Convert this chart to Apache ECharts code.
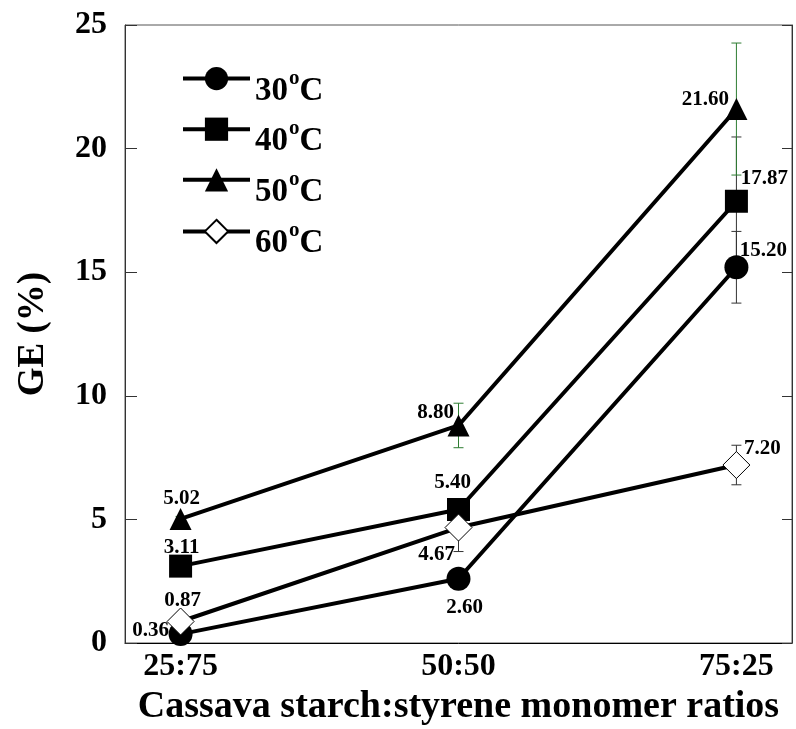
<!DOCTYPE html>
<html>
<head>
<meta charset="utf-8">
<script src="https://cdn.jsdelivr.net/npm/echarts@6/dist/echarts.min.js"></script>
<style>html,body{margin:0;padding:0;background:#fff;}#c{width:796px;height:729px;}</style>
</head>
<body>
<div id="c"></div>
<script>
const categories = ['25:75', '50:50', '75:25'];
const seriesNames = ['30', '40', '50', '60'];
const ge30 = [0.36, 2.60, 15.20];
const ge40 = [3.11, 5.40, 17.87];
const ge50 = [5.02, 8.80, 21.60];
const ge60 = [0.87, 4.67, 7.20];
const err30 = [0, 0, 1.45];
const err40 = [0, 0, 2.6];
const err50 = [0.1, 0.9, 2.67];
const err60 = [0.2, 0.97, 0.8];
const yTicks = [0, 5, 10, 15, 20, 25];

const FONT = 'Liberation Serif';
const values = [ge30, ge40, ge50, ge60];
const errs = [err30, err40, err50, err60];
const symbols = ['circle', 'rect', 'triangle', 'diamond'];
const symbolSizes = [24, 23, 22, [27, 27]];
const errColors = ['#333', '#333', '#2e7d32', '#333'];
const labelOffsets = [
  [[-30, -4], [6, 29], [27, -17]],
  [[1, -19], [-6, -27], [28, -23]],
  [[1, -20], [-23, -13], [-31, -9]],
  [[2, -21], [-22, 27], [26, -16]]
];

const chart = echarts.init(document.getElementById('c'));

const lineSeries = values.map((vals, si) => ({
  name: seriesNames[si],
  type: 'line',
  z: 3,
  symbol: symbols[si],
  symbolSize: symbolSizes[si],
  lineStyle: { color: '#000', width: 4 },
  itemStyle: si === 3 ? { color: '#fff', borderColor: '#000', borderWidth: 1 } : { color: '#000' },
  data: vals.map((v, i) => ({
    value: [i, v],
    label: {
      show: true,
      position: 'inside',
      offset: labelOffsets[si][i],
      formatter: v.toFixed(2),
      color: '#000',
      fontFamily: FONT,
      fontWeight: 'bold',
      fontSize: 21
    }
  }))
}));

const errSeries = values.map((vals, si) => ({
  type: 'custom',
  z: 2,
  silent: true,
  data: vals.map((v, i) => [i, v, errs[si][i]]).filter(d => d[2] > 0),
  renderItem: function (params, api) {
    const x = api.value(0), y = api.value(1), e = api.value(2);
    const t = api.coord([x, y + e]);
    const b = api.coord([x, y - e]);
    const st = { stroke: errColors[si], lineWidth: 1 };
    return {
      type: 'group',
      children: [
        { type: 'line', shape: { x1: t[0], y1: t[1], x2: b[0], y2: b[1] }, style: st },
        { type: 'line', shape: { x1: t[0] - 5, y1: t[1], x2: t[0] + 5, y2: t[1] }, style: st },
        { type: 'line', shape: { x1: b[0] - 5, y1: b[1], x2: b[0] + 5, y2: b[1] }, style: st }
      ]
    };
  }
}));

chart.setOption({
  animation: false,
  backgroundColor: '#fff',
  grid: { left: 125, right: 4, top: 25, bottom: 86, outerBoundsMode: 'none', containLabel: false, show: true, borderColor: '#555', borderWidth: 1 },
  legend: {
    orient: 'vertical',
    left: 181,
    top: 67,
    padding: 0,
    itemWidth: 67,
    itemHeight: 29,
    itemGap: 10,
    data: seriesNames,
    lineStyle: { width: 4 },
    formatter: function (n) { return '{a|' + n + '}{s|o}{a|C}'; },
    textStyle: {
      color: '#000',
      padding: [18, 0, 0, 0],
      rich: {
        a: { fontFamily: FONT, fontWeight: 'bold', fontSize: 33, color: '#000', verticalAlign: 'bottom', lineHeight: 40 },
        s: { fontFamily: FONT, fontWeight: 'bold', fontSize: 21, color: '#000', verticalAlign: 'top', lineHeight: 40, padding: [0, 0, 0, 1] }
      }
    }
  },
  xAxis: {
    type: 'value',
    min: -0.2,
    max: 2.2,
    splitLine: { show: false },
    axisLine: { onZero: false, lineStyle: { color: '#000', width: 1 } },
    axisTick: { show: false },
    name: 'Cassava starch:styrene monomer ratios',
    nameLocation: 'middle',
    nameGap: 40,
    nameTextStyle: { fontFamily: FONT, fontWeight: 'bold', fontSize: 38, color: '#000' },
    axisLabel: {
      customValues: [0, 1, 2],
      formatter: function (v) { return categories[Math.round(v)] || ''; },
      fontFamily: FONT, fontWeight: 'bold', fontSize: 32, color: '#000', margin: 8
    }
  },
  yAxis: [{
    type: 'value',
    min: 0,
    max: 25,
    interval: 5,
    splitLine: { show: false },
    axisLine: { show: true, onZero: false, lineStyle: { color: '#333', width: 1 } },
    axisTick: { show: true, inside: true, length: 12, lineStyle: { color: '#333' } },
    axisLabel: {
      formatter: function (v) { return yTicks.indexOf(v) >= 0 ? String(v) : ''; },
      fontFamily: FONT, fontWeight: 'bold', fontSize: 32, color: '#000', margin: 18
    },
    name: 'GE (%)',
    nameLocation: 'middle',
    nameGap: 73,
    nameTextStyle: { fontFamily: FONT, fontWeight: 'bold', fontSize: 37, color: '#000' }
  }, {
    type: 'value',
    position: 'right',
    min: 0,
    max: 25,
    interval: 5,
    splitLine: { show: false },
    axisLine: { show: true, onZero: false, lineStyle: { color: '#333', width: 1 } },
    axisTick: { show: true, inside: true, length: 10, lineStyle: { color: '#333' } },
    axisLabel: { show: false }
  }],
  series: errSeries.concat(lineSeries)
});
</script>
</body>
</html>
